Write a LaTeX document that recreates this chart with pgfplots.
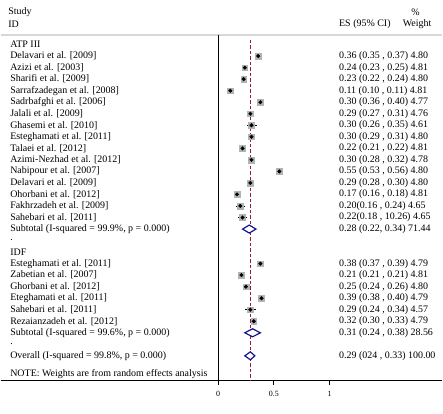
\documentclass[border=0pt]{standalone}
\usepackage{fontspec}
\setmainfont{Liberation Serif}
\usepackage{pgfplots}
\pgfplotsset{compat=1.18}
\definecolor{dashred}{RGB}{150,30,50}
\definecolor{boxgray}{RGB}{175,180,180}
\definecolor{diamblue}{RGB}{20,20,140}
\definecolor{topgray}{RGB}{215,215,215}
\begin{document}
\begin{tikzpicture}
\begin{axis}[
  scale only axis, width=443pt, height=382pt,
  xmin=-1.9464, xmax=2.0089, ymin=-382, ymax=0,
  clip=false,
  axis x line=bottom, axis y line=none,
  axis line style={-, black, line width=0.7pt},
  xtick={0,0.5,1}, xticklabels={0,0.5,1},
  tick align=outside, major tick length=4pt,
  tick style={black, line width=0.7pt},
  /pgf/number format/assume math mode=true,
  xticklabel style={font=\fontsize{8}{9}\selectfont, yshift=-3pt},
  every node/.append style={font=\fontsize{8}{9.6}\selectfont, inner sep=0pt},
]
% frame lines
\draw[topgray, line width=1.6pt] (axis cs:-1.9464,-35) -- (axis cs:2.0089,-35);
\draw[black, line width=0.8pt] (axis cs:0,-35) -- (axis cs:0,-382);
\draw[dashred, line width=0.6pt, dash pattern=on 3.5pt off 2pt] (axis cs:0.29,-40) -- (axis cs:0.29,-382);
\path (axis cs:-1.9464,-415) rectangle (axis cs:2.0089,0);

% weight boxes
\addplot[only marks, mark=square*, mark size=2.9pt, mark options={fill=boxgray, draw=boxgray}] coordinates {
(0.36,-56.3) (0.24,-67.9) (0.23,-79.4) (0.11,-91.0) (0.38,-102.6) (0.29,-114.2)
(0.30,-125.7) (0.30,-137.3) (0.22,-148.9) (0.30,-160.4) (0.55,-172.0) (0.29,-183.6)
(0.17,-195.1) (0.20,-206.7) (0.22,-218.3)
(0.38,-264.6) (0.21,-276.1) (0.25,-287.7) (0.39,-299.3) (0.29,-310.8) (0.32,-322.4)
};
% point estimates with CIs
\addplot[only marks, mark=*, mark size=1.8pt, black,
  error bars/.cd, x dir=both, x explicit, error mark=none,
  error bar style={black, line width=0.8pt}] coordinates {
(0.36,-56.3) += (0.01,0) -= (0.01,0)
(0.24,-67.9) += (0.01,0) -= (0.01,0)
(0.23,-79.4) += (0.01,0) -= (0.01,0)
(0.11,-91.0) += (0.00,0) -= (0.01,0)
(0.38,-102.6) += (0.02,0) -= (0.02,0)
(0.29,-114.2) += (0.02,0) -= (0.02,0)
(0.30,-125.7) += (0.05,0) -= (0.04,0)
(0.30,-137.3) += (0.01,0) -= (0.01,0)
(0.22,-148.9) += (0.00,0) -= (0.01,0)
(0.30,-160.4) += (0.02,0) -= (0.02,0)
(0.55,-172.0) += (0.01,0) -= (0.02,0)
(0.29,-183.6) += (0.01,0) -= (0.01,0)
(0.17,-195.1) += (0.01,0) -= (0.01,0)
(0.20,-206.7) += (0.04,0) -= (0.04,0)
(0.22,-218.3) += (0.04,0) -= (0.04,0)
(0.38,-264.6) += (0.01,0) -= (0.01,0)
(0.21,-276.1) += (0.00,0) -= (0.00,0)
(0.25,-287.7) += (0.01,0) -= (0.01,0)
(0.39,-299.3) += (0.01,0) -= (0.01,0)
(0.29,-310.8) += (0.05,0) -= (0.05,0)
(0.32,-322.4) += (0.01,0) -= (0.02,0)
};
% pooled diamonds
\addplot[diamblue, line width=1.2pt, fill=white, line join=miter] coordinates {
(0.22,-229.9) (0.28,-225.9) (0.34,-229.9) (0.28,-233.9) (0.22,-229.9) (0.28,-225.9)};
\addplot[diamblue, line width=1.2pt, fill=white, line join=miter] coordinates {
(0.24,-334.0) (0.31,-330.0) (0.38,-334.0) (0.31,-338.0) (0.24,-334.0) (0.31,-330.0)};
\addplot[diamblue, line width=1.2pt, fill=white, line join=miter] coordinates {
(0.24,-357.1) (0.29,-353.1) (0.33,-357.1) (0.29,-361.1) (0.24,-357.1) (0.29,-353.1)};

% headers
\node[anchor=west] at (axis cs:-1.911,-12) {Study};
\node[anchor=west] at (axis cs:-1.911,-24) {ID};
\node[anchor=west] at (axis cs:1.054,-24) {ES (95\% CI)};
\node[anchor=west] at (axis cs:1.700,-12) {\%};
\node[anchor=west] at (axis cs:1.625,-24) {Weight};

% study labels
\foreach \lab/\yy in {
  ATP III/44.7,
  Delavari et al. [2009]/56.3,
  Azizi et al. [2003]/67.9,
  Sharifi et al. [2009]/79.4,
  Sarrafzadegan et al. [2008]/91.0,
  Sadrbafghi et al. [2006]/102.6,
  Jalali et al. [2009]/114.2,
  Ghasemi et al. [2010]/125.7,
  Esteghamati et al. [2011]/137.3,
  Talaei et al. [2012]/148.9,
  Azimi-Nezhad et al. [2012]/160.4,
  Nabipour et al. [2007]/172.0,
  Delavari et al. [2009]/183.6,
  Ohorbani et al. [2012]/195.1,
  Fakhrzadeh et al. [2009]/206.7,
  Sahebari et al. [2011]/218.3,
  {Subtotal (I-squared = 99.9\%, p = 0.000)}/229.9,
  ./241.4,
  IDF/253.0,
  Esteghamati et al. [2011]/264.6,
  Zabetian et al. [2007]/276.1,
  Ghorbani et al. [2012]/287.7,
  Eteghamati et al. [2011]/299.3,
  Sahebari et al. [2011]/310.8,
  Rezaianzadeh et al. [2012]/322.4,
  {Subtotal (I-squared = 99.6\%, p = 0.000)}/334.0,
  ./345.5,
  {Overall (I-squared = 99.8\%, p = 0.000)}/357.1,
  {NOTE: Weights are from random effects analysis}/375.5}
{\edef\tmp{\noexpand\node[anchor=west] at (axis cs:-1.893,-\yy) {\unexpanded\expandafter{\lab}};}\tmp}

% ES text
\foreach \lab/\yy in {
  {0.36 (0.35 , 0.37) 4.80}/56.3,
  {0.24 (0.23 , 0.25) 4.81}/67.9,
  {0.23 (0.22 , 0.24) 4.80}/79.4,
  {0.11 (0.10 , 0.11) 4.81}/91.0,
  {0.30 (0.36 , 0.40) 4.77}/102.6,
  {0.29 (0.27 , 0.31) 4.76}/114.2,
  {0.30 (0.26 , 0.35) 4.61}/125.7,
  {0.30 (0.29 , 0.31) 4.80}/137.3,
  {0.22 (0.21 , 0.22) 4.81}/148.9,
  {0.30 (0.28 , 0.32) 4.78}/160.4,
  {0.55 (0.53 , 0.56) 4.80}/172.0,
  {0.29 (0.28 , 0.30) 4.80}/183.6,
  {0.17 (0.16 , 0.18) 4.81}/195.1,
  {0.20(0.16 , 0.24) 4.65}/206.7,
  {0.22(0.18 , 10.26) 4.65}/218.3,
  {0.28 (0.22, 0.34) 71.44}/229.9,
  {0.38 (0.37 , 0.39) 4.79}/264.6,
  {0.21 (0.21 , 0.21) 4.81}/276.1,
  {0.25 (0.24 , 0.26) 4.80}/287.7,
  {0.39 (0.38 , 0.40) 4.79}/299.3,
  {0.29 (0.24 , 0.34) 4.57}/310.8,
  {0.32 (0.30 , 0.33) 4.79}/322.4,
  {0.31 (0.24 , 0.38) 28.56}/334.0,
  {0.29 (024 , 0.33) 100.00}/357.1}
{\edef\tmp{\noexpand\node[anchor=west] at (axis cs:1.054,-\yy) {\unexpanded\expandafter{\lab}};}\tmp}
\end{axis}
\end{tikzpicture}
\end{document}
